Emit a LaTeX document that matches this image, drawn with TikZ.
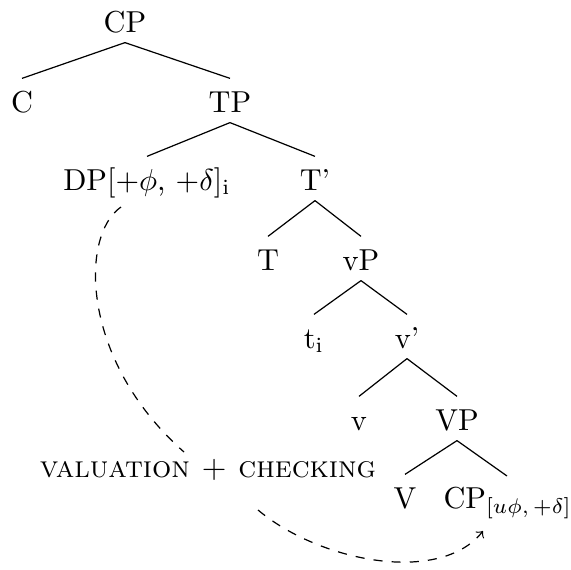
\documentclass[tikz,border=0pt]{standalone}
\begin{document}
\begin{tikzpicture}[x=0.33pt,y=-0.33pt,
  tn/.style={anchor=base,inner sep=0pt,text height=10.9pt,text depth=3.3pt},
  branch/.style={line width=0.4pt},
  move/.style={dashed,line width=0.4pt}]
\useasboundingbox (0,0) rectangle (571,570);
% nodes
\node[tn] (CP) at (125,32) {CP};
\node[tn] (C) at (22,112) {C};
\node[tn] (TP) at (230,112) {TP};
\node[tn] (DP) at (147,190) {DP[+$\phi$, +$\delta$]$_{\mathrm{i}}$};
\node[tn] (Tb) at (315,190) {T'};
\node[tn] (T) at (268,270) {T};
\node[tn] (vP) at (361,270) {vP};
\node[tn] (ti) at (314,348) {t$_{\mathrm{i}}$};
\node[tn] (vb) at (407,348) {v'};
\node[tn] (v) at (359,430) {v};
\node[tn] (VP) at (457,430) {VP};
\node[tn] (V) at (405,508) {V};
\node[tn,anchor=base west] (CPb) at (443,508) {CP$_{[u\phi,\,+\delta]}$};
\node[anchor=base,inner sep=0pt] (lab) at (208,477) {\textsc{valuation + checking}};
% branches
\draw[branch] (CP.south) -- (C.north);
\draw[branch] (CP.south) -- (TP.north);
\draw[branch] (TP.south) -- (DP.north);
\draw[branch] (TP.south) -- (Tb.north);
\draw[branch] (Tb.south) -- (T.north);
\draw[branch] (Tb.south) -- (vP.north);
\draw[branch] (vP.south) -- (ti.north);
\draw[branch] (vP.south) -- (vb.north);
\draw[branch] (vb.south) -- (v.north);
\draw[branch] (vb.south) -- (VP.north);
\draw[branch] (VP.south) -- (V.north);
\coordinate (cpend) at (507,476);
\draw[branch] (VP.south) -- (cpend);
% movement arrows
\coordinate (a1) at (121,207);
\coordinate (a2) at (184,452);
\coordinate (b1) at (258,510);
\coordinate (b2) at (483,531);
\draw[move] (a1) .. controls (80,235) and (80,360) .. (a2);
\draw[move,->] (b1) .. controls (320,562) and (440,585) .. (b2);
\end{tikzpicture}
\end{document}
